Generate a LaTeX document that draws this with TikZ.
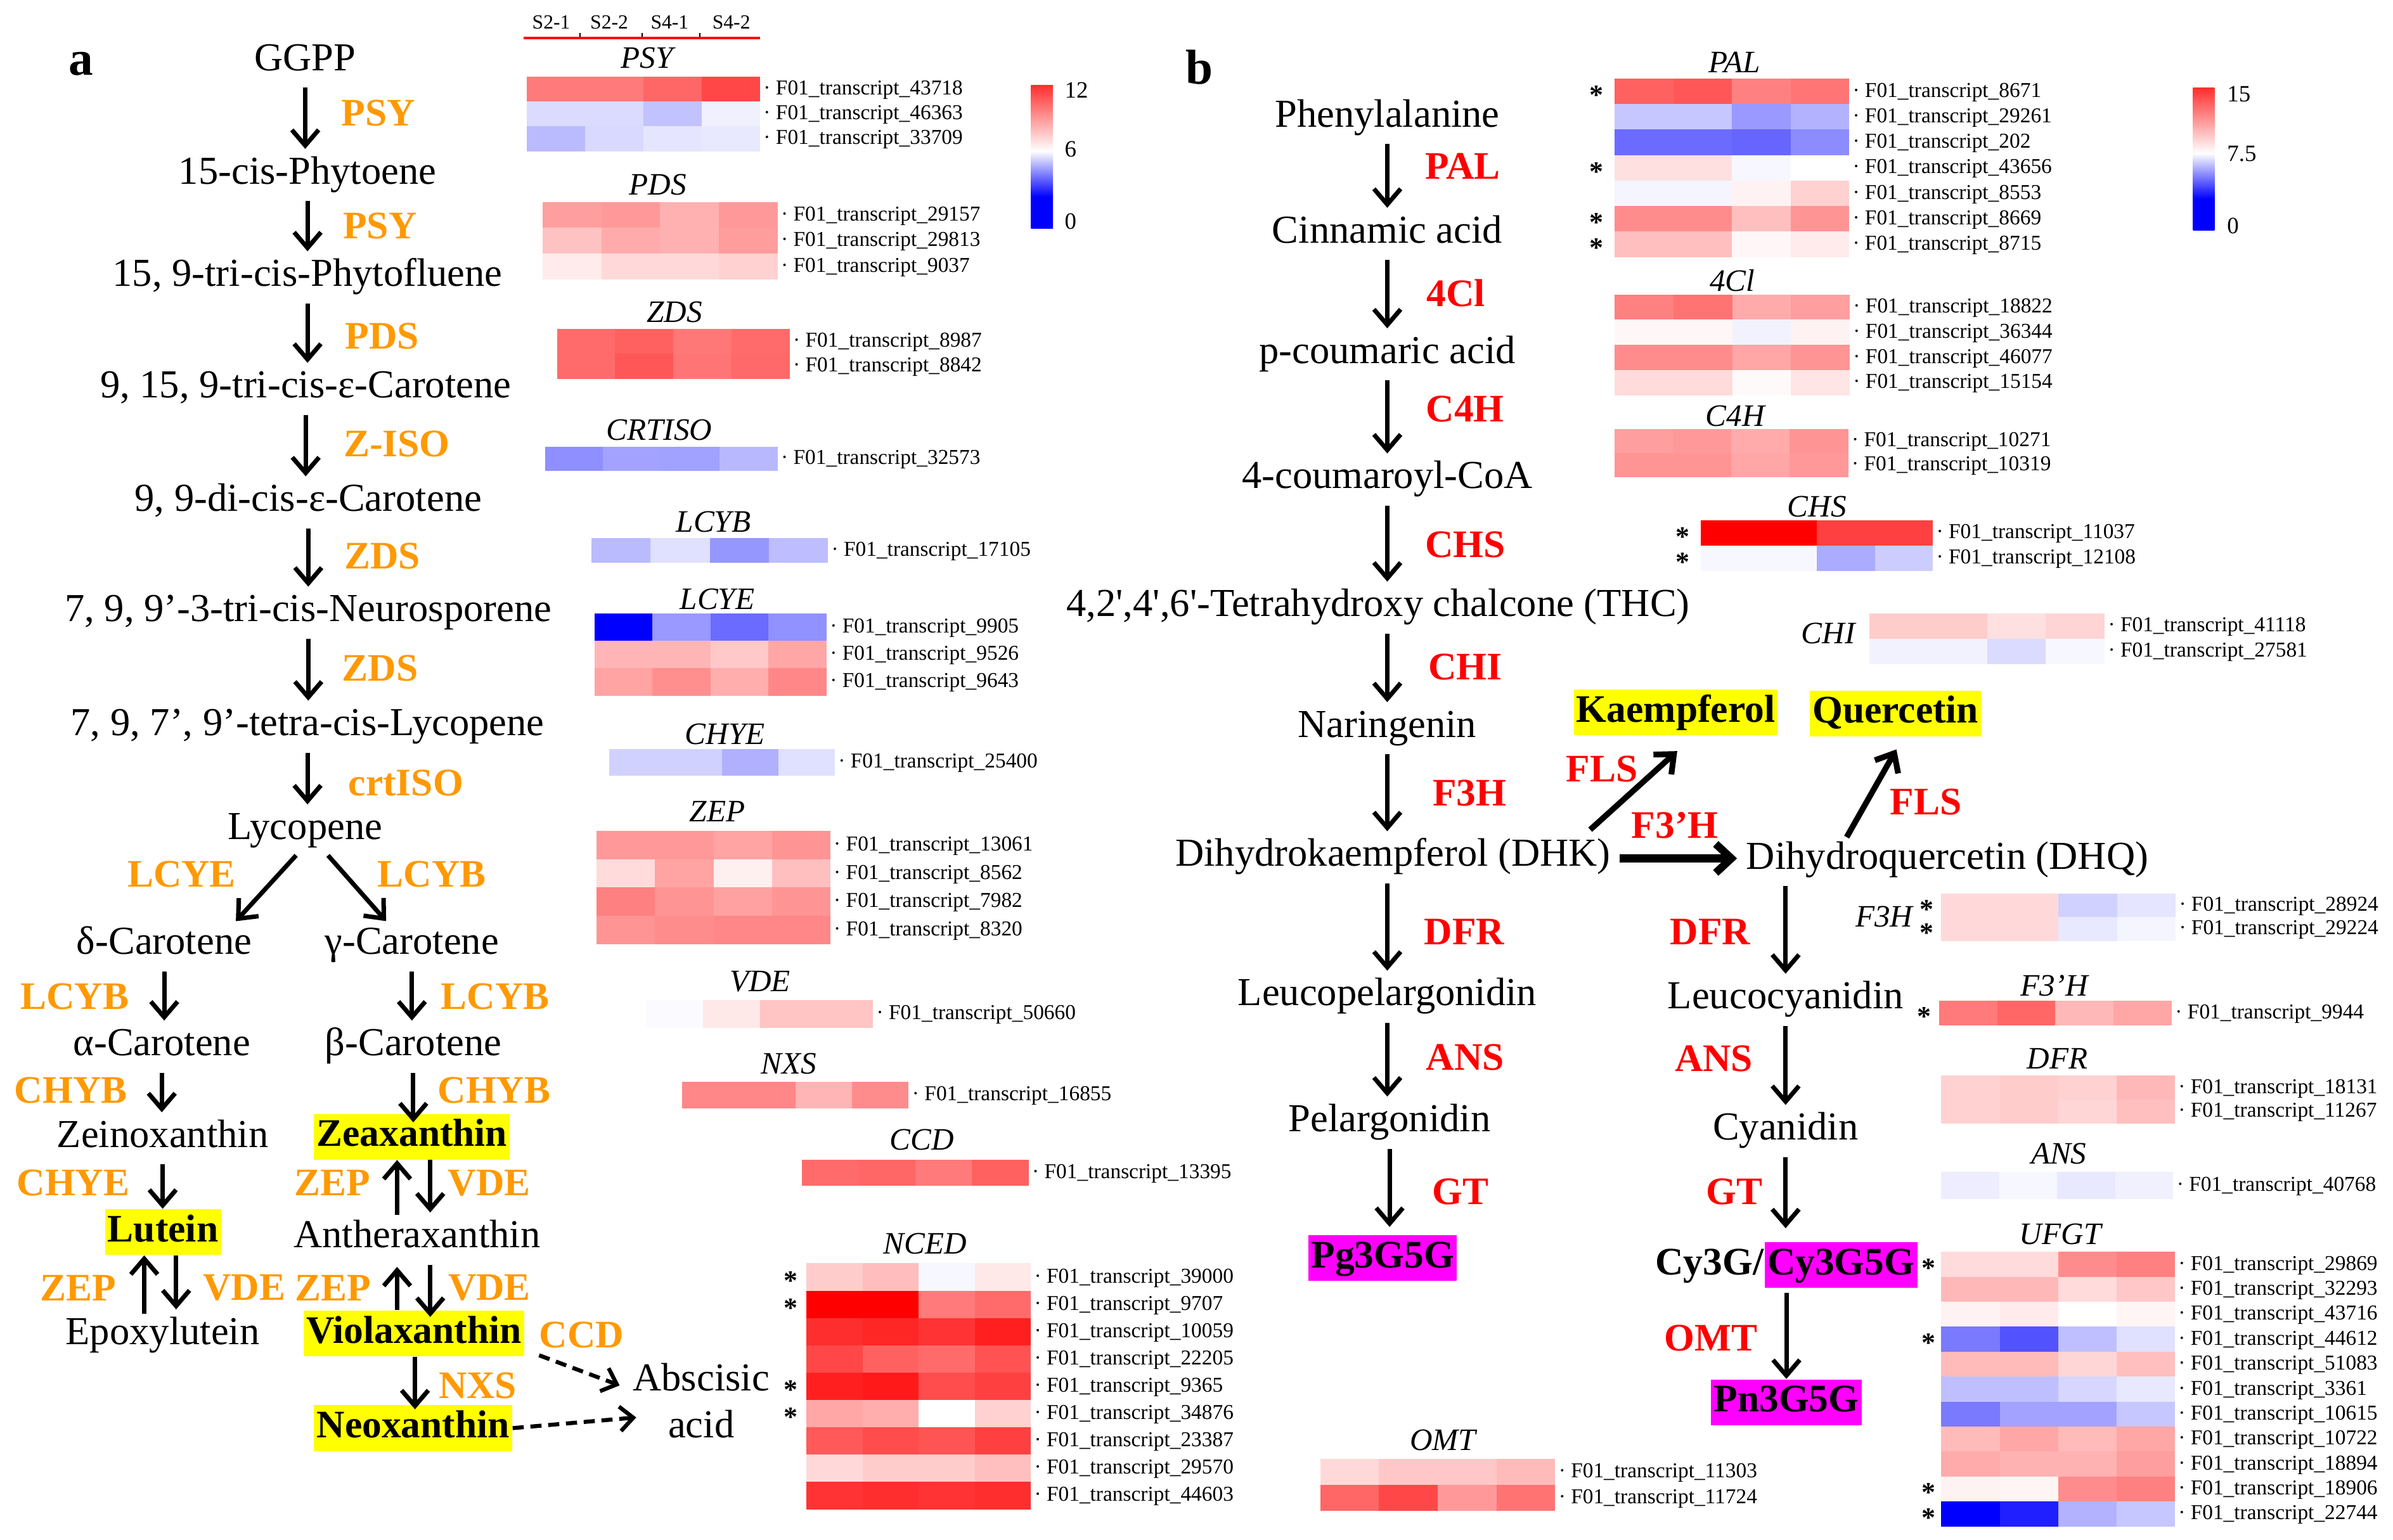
\documentclass[tikz,border=0pt]{standalone}
\usepackage{fontspec}
\setmainfont{Liberation Serif}
\usetikzlibrary{arrows.meta}
\definecolor{enzorange}{RGB}{255,153,0}
\definecolor{hlyellow}{RGB}{255,255,0}
\definecolor{hlmagenta}{RGB}{255,0,255}
\pgfdeclareverticalshading{hmbar}{100bp}{color(0bp)=(blue); color(36bp)=(blue); color(52bp)=(white); color(80bp)=(red); color(100bp)=(red)}
\tikzset{
  cmp/.style={font=\fontsize{17.8}{21}\selectfont, inner sep=1pt, text height=11.5pt, text depth=4.5pt},
  enz/.style={font=\fontsize{17.5}{21}\selectfont\bfseries, text=enzorange, inner sep=0pt},
  enzr/.style={font=\fontsize{17.5}{21}\selectfont\bfseries, text=red, inner sep=0pt},
  boldtxt/.style={font=\fontsize{17.5}{21}\selectfont\bfseries, inner xsep=1.2pt, inner ysep=2.1pt, text height=12.5pt, text depth=3.8pt},
  hl/.style={boldtxt, fill=hlyellow},
  mg/.style={boldtxt, fill=hlmagenta},
  gname/.style={font=\fontsize{14}{16}\selectfont\itshape, inner sep=0pt},
  lbl/.style={font=\fontsize{9.5}{11}\selectfont, anchor=west, inner sep=0pt, text height=6.8pt, text depth=1.6pt},
  ast/.style={font=\fontsize{12.5}{13}\selectfont\bfseries, inner sep=0pt, anchor=base},
  cblbl/.style={font=\fontsize{10.5}{12}\selectfont, anchor=west, inner sep=0pt},
  arr/.style={line width=2pt, -{Straight Barb[length=7pt,width=12pt]}, shorten <=2pt, shorten >=3pt},
  arrb/.style={line width=2.6pt, -{Straight Barb[length=7pt,width=12pt]}},
  arrh/.style={line width=3.5pt, -{Straight Barb[length=7pt,width=13pt]}, shorten <=3pt, shorten >=3pt},
  darr/.style={line width=1.8pt, dash pattern=on 5pt off 3pt, -{Straight Barb[length=6pt,width=11pt]}},
}
\newcommand{\hmap}[6]{%
  \foreach \ca/\cb/\cc/\cd/\tr [count=\i] in {#6}{%
    \pgfmathsetmacro{\yy}{#3+(\i-1)*#5}%
    \pgfmathsetmacro{\cw}{(#4-#2)/4}%
    \fill[fill=\ca] (#2,\yy) rectangle ++({\cw+0.3},{#5+0.3});
    \fill[fill=\cb] ({#2+\cw},\yy) rectangle ++({\cw+0.3},{#5+0.3});
    \fill[fill=\cc] ({#2+2*\cw},\yy) rectangle ++({\cw+0.3},{#5+0.3});
    \fill[fill=\cd] ({#2+3*\cw},\yy) rectangle ++(\cw,{#5+0.3});
    \node[lbl] (#1-\i) at ({#4+2},{\yy+#5/2}) {· F01\_transcript\_\tr};
  }}
\begin{document}
\begin{tikzpicture}[x=0.24075mm, y=-0.24075mm]
  \useasboundingbox (0,0) rectangle (1568,1009);

  \node[font=\fontsize{22}{22}\selectfont\bfseries] (pa) at (53,42) {a};
  \node[font=\fontsize{22}{22}\selectfont\bfseries] (pb) at (786,44) {b};

  \node[cmp] (ggpp) at (200,41) {GGPP};
  \node[cmp] (phy) at (201.5,115.4) {15-cis-Phytoene};
  \node[cmp] (phf) at (201.5,182.5) {15, 9-tri-cis-Phytofluene};
  \node[cmp] (zcar) at (200.3,255.6) {9, 15, 9-tri-cis-ε-Carotene};
  \node[cmp] (dcar) at (202,330) {9, 9-di-cis-ε-Carotene};
  \node[cmp] (neu) at (202,402.3) {7, 9, 9’-3-tri-cis-Neurosporene};
  \node[cmp] (tlyc) at (201.5,477) {7, 9, 7’, 9’-tetra-cis-Lycopene};
  \node[cmp] (lyc) at (200,545) {Lycopene};
  \node[cmp] (dcaro) at (107.6,620.4) {δ-Carotene};
  \node[cmp] (gcaro) at (269.9,620.4) {γ-Carotene};
  \node[cmp] (acaro) at (106,686.7) {α-Carotene};
  \node[cmp] (bcaro) at (270.8,686.7) {β-Carotene};
  \node[cmp] (zein) at (106.6,746.8) {Zeinoxanthin};
  \node[hl] (zea) at (269.9,745) {Zeaxanthin};
  \node[hl] (lut) at (106.8,807.5) {Lutein};
  \node[cmp] (anth) at (273.2,812.5) {Antheraxanthin};
  \node[cmp] (epox) at (106.6,876) {Epoxylutein};
  \node[hl] (viola) at (271.2,874) {Violaxanthin};
  \node[hl] (neo) at (270.7,936) {Neoxanthin};
  \node[font=\fontsize{17.8}{21.2}\selectfont, align=center, inner sep=1pt] (aba) at (459.5,918) {Abscisic\\acid};

  \draw[arr] (ggpp.south) -- (ggpp.south |- phy.north);
  \draw[arr] (phy.south) -- (phy.south |- phf.north);
  \draw[arr] (phf.south) -- (phf.south |- zcar.north);
  \draw[arr] (zcar.south) -- (zcar.south |- dcar.north);
  \draw[arr] (dcar.south) -- (dcar.south |- neu.north);
  \draw[arr] (neu.south) -- (neu.south |- tlyc.north);
  \draw[arr] (tlyc.south) -- (tlyc.south |- lyc.north);
  \draw[arr] ([shift={(-4,0)}]lyc.south) -- ([shift={(44,0)}]dcaro.north);
  \draw[arr] ([shift={(13,0)}]lyc.south) -- ([shift={(-14,0)}]gcaro.north);
  \draw[arr] (dcaro.south) -- (dcaro.south |- acaro.north);
  \draw[arr] (gcaro.south) -- (gcaro.south |- bcaro.north);
  \draw[arr] (acaro.south) -- (acaro.south |- zein.north);
  \draw[arr, shorten >=-4pt] (bcaro.south) -- (bcaro.south |- zea.north);
  \draw[arr, shorten >=0pt] (zein.south) -- (zein.south |- lut.north);
  \draw[arr, shorten >=0pt] ([shift={(-13,0)}]anth.north) -- ([shift={(-13,0)}]anth.north |- zea.south);
  \draw[arr, shorten <=0pt] ([shift={(8.7,0)}]anth.north |- zea.south) -- ([shift={(8.7,0)}]anth.north);
  \draw[arr, shorten <=1pt, shorten >=0pt] ([shift={(-12.3,0)}]lut.south |- epox.north) -- ([shift={(-12.3,0)}]lut.south);
  \draw[arr, shorten <=0pt] ([shift={(8.6,0)}]lut.south) -- ([shift={(8.6,0)}]lut.south |- epox.north);
  \draw[arr, shorten <=0pt] ([shift={(-13,0)}]anth.south |- viola.north) -- ([shift={(-13,0)}]anth.south);
  \draw[arr, shorten >=-3pt] ([shift={(8.7,0)}]anth.south) -- ([shift={(8.7,0)}]anth.south |- viola.north);
  \draw[arr, shorten <=0pt, shorten >=-2pt] ([shift={(0.7,0)}]viola.south) -- ([shift={(0.7,0)}]viola.south |- neo.north);
  \draw[darr] ([shift={(9.5,-1)}]viola.south east) -- ([shift={(-7,-10)}]aba.west);
  \draw[darr] (neo.east) -- ([shift={(3.9,11)}]aba.west);

  \node[enz] (e-psy1) at (248,74) {PSY};
  \node[enz] (e-psy2) at (249,148) {PSY};
  \node[enz] (e-pds) at (250.4,220.4) {PDS};
  \node[enz] (e-ziso) at (260,291) {Z-ISO};
  \node[enz] (e-zds1) at (250.4,364.4) {ZDS};
  \node[enz] (e-zds2) at (249,438) {ZDS};
  \node[enz] (e-crtiso) at (266,513) {crtISO};
  \node[enz] (e-lcye) at (119,573) {LCYE};
  \node[enz] (e-lcyb1) at (283,573) {LCYB};
  \node[enz] (e-lcyb2) at (49,653) {LCYB};
  \node[enz] (e-lcyb3) at (324.5,653) {LCYB};
  \node[enz] (e-chyb1) at (46.4,714.5) {CHYB};
  \node[enz] (e-chyb2) at (323.8,714.5) {CHYB};
  \node[enz] (e-chye) at (48,775.4) {CHYE};
  \node[enz] (e-zep1) at (217.6,775.4) {ZEP};
  \node[enz] (e-vde1) at (320.5,775.4) {VDE};
  \node[enz] (e-zep2) at (51.3,844) {ZEP};
  \node[enz] (e-vde2) at (160,844) {VDE};
  \node[enz] (e-zep3) at (218,844) {ZEP};
  \node[enz] (e-vde3) at (320.7,844) {VDE};
  \node[enz] (e-ccd) at (381,875) {CCD};
  \node[enz] (e-nxs) at (313,908) {NXS};

  \node[font=\fontsize{9}{10}\selectfont, inner sep=0pt] (hd1) at (361.2,14.8) {S2-1};
  \node[font=\fontsize{9}{10}\selectfont, inner sep=0pt] (hd2) at (399.2,14.8) {S2-2};
  \node[font=\fontsize{9}{10}\selectfont, inner sep=0pt] (hd3) at (438.8,14.8) {S4-1};
  \node[font=\fontsize{9}{10}\selectfont, inner sep=0pt] (hd4) at (479.2,14.8) {S4-2};
  \draw[red, line width=1.1pt] (343,24.8) -- (498,24.8);
  \draw[line width=0.4pt] (380,24) -- (380,21.5);
  \draw[line width=0.4pt] (420.8,24) -- (420.8,21.5);
  \draw[line width=0.4pt] (458.6,24) -- (458.6,21.5);

  \node[gname] (t-psy) at (424,38) {PSY};
  \node[gname] (t-pds) at (431,121) {PDS};
  \node[gname] (t-zds) at (442,204.5) {ZDS};
  \node[gname] (t-crtiso) at (432,282) {CRTISO};
  \node[gname] (t-lcyb) at (467.5,342) {LCYB};
  \node[gname] (t-lcye) at (470,392.5) {LCYE};
  \node[gname] (t-chye) at (475,481) {CHYE};
  \node[gname] (t-zep) at (470,532) {ZEP};
  \node[gname] (t-vde) at (498,643.4) {VDE};
  \node[gname] (t-nxs) at (517,697) {NXS};
  \node[gname] (t-ccd) at (604,747) {CCD};
  \node[gname] (t-nced) at (606,815) {NCED};

  \hmap{psy}{345}{50.4}{498}{16.2}{red!52/red!52/red!60/red!72/43718, blue!14/blue!14/blue!24/blue!6/46363, blue!27/blue!15/blue!10/blue!9/33709}
  \hmap{pds}{355.6}{132.4}{509.5}{16.8}{red!38/red!40/red!31/red!40/29157, red!24/red!33/red!31/red!39/29813, red!8/red!15/red!15/red!18/9037}
  \hmap{zds}{365}{215.7}{517.4}{16.2}{red!58/red!62/red!53/red!58/8987, red!58/red!66/red!54/red!59/8842}
  \hmap{crtiso}{357}{293}{509.5}{15.3}{blue!44/blue!36/blue!37/blue!28/32573}
  \hmap{lcyb}{387.5}{352.7}{542.5}{15.8}{blue!27/blue!12/blue!41/blue!26/17105}
  \hmap{lcye}{389.4}{402}{541.6}{17.9}{blue!100/blue!40/blue!58/blue!43/9905, red!29/red!29/red!21/red!35/9526, red!36/red!44/red!32/red!47/9643}
  \hmap{chye}{399}{491}{547}{17}{blue!18/blue!18/blue!31/blue!12/25400}
  \hmap{zep}{391}{544.6}{544}{18.5}{red!40/red!40/red!36/red!42/13061, red!14/red!36/red!6/red!25/8562, red!50/red!42/red!37/red!42/7982, red!42/red!45/red!47/red!47/8320}
  \hmap{vde}{423.7}{655.5}{572}{17.8}{blue!2/red!9/red!23/red!23/50660}
  \hmap{nxs}{447}{709}{595.4}{17}{red!47/red!47/red!29/red!45/16855}
  \hmap{ccd}{525.4}{760}{674}{17}{red!58/red!60/red!52/red!62/13395}
  \hmap{nced}{528.4}{828}{675.4}{17.9}{red!20/red!26/blue!3/red!9/39000, red!100/red!100/red!52/red!58/9707, red!82/red!85/red!80/red!88/10059, red!72/red!62/red!58/red!68/22205, red!88/red!90/red!70/red!75/9365, red!35/red!32/white/red!18/34876, red!65/red!70/red!67/red!75/23387, red!15/red!20/red!20/red!25/29570, red!80/red!82/red!80/red!82/44603}
  \foreach \r in {1,2,5,6} \node[ast] (nced-s\r) at (518,{828+(\r-0.5)*17.9+8.5}) {*};

  \shade[shading=hmbar] (675.5,55.7) rectangle (690,149.8);
  \node[cblbl] (cb-a1) at (697.4,59.3) {12};
  \node[cblbl] (cb-a2) at (697.4,97.9) {6};
  \node[cblbl] (cb-a3) at (697.4,145) {0};

  \node[cmp] (phe) at (909,78) {Phenylalanine};
  \node[cmp] (cin) at (909,154) {Cinnamic acid};
  \node[cmp] (pcou) at (909,233) {p-coumaric acid};
  \node[cmp] (cou) at (909,315) {4-coumaroyl-CoA};
  \node[cmp] (thc) at (903,399) {4,2\textquotesingle,4\textquotesingle,6\textquotesingle-Tetrahydroxy chalcone (THC)};
  \node[cmp] (nar) at (909,478) {Naringenin};
  \node[cmp] (dhk) at (912.7,562.6) {Dihydrokaempferol (DHK)};
  \node[cmp] (dhq) at (1276,564.5) {Dihydroquercetin (DHQ)};
  \node[hl] (kae) at (1098,467) {Kaempferol};
  \node[hl] (que) at (1242,467.5) {Quercetin};
  \node[cmp] (leup) at (909,654) {Leucopelargonidin};
  \node[cmp] (leuc) at (1170,656) {Leucocyanidin};
  \node[cmp] (pel) at (910.5,736.5) {Pelargonidin};
  \node[cmp] (cyan) at (1170,742) {Cyanidin};
  \node[mg] (pg) at (906,824.5) {Pg3G5G};
  \node[boldtxt, inner xsep=0pt, anchor=east] (cy3g) at (1156,829) {Cy3G/};
  \node[mg, anchor=west] (cy3g5g) at (1156,829) {Cy3G5G};
  \node[mg] (pn) at (1170.5,919) {Pn3G5G};

  \draw[arr] (phe.south) -- (phe.south |- cin.north);
  \draw[arr] (cin.south) -- (cin.south |- pcou.north);
  \draw[arr] (pcou.south) -- (pcou.south |- cou.north);
  \draw[arr] (cou.south) -- (cou.south |- thc.north);
  \draw[arr] (thc.south -| nar) -- (nar.north);
  \draw[arr] (nar.south) -- (nar.south |- dhk.north);
  \draw[arr] (dhk.south -| leup) -- (leup.north);
  \draw[arr] (leup.south) -- (leup.south |- pel.north);
  \draw[arr, shorten >=3.5pt] (pel.south) -- (pel.south |- pg.north);
  \draw[arr] (dhq.south -| leuc) -- (leuc.north);
  \draw[arr] (leuc.south) -- (leuc.south |- cyan.north);
  \draw[arr, shorten >=6pt] (cyan.south) -- (cyan.south |- cy3g5g.north);
  \draw[arr, shorten >=0pt] (cy3g5g.south -| pn) -- (pn.north);
  \draw[arrh] (dhk.east) -- (dhk.east -| dhq.west);
  \draw[arrb] ([shift={(-15,-5.4)}]dhk.north east) -- ([shift={(1,10)}]kae.south);
  \draw[arrb] ([shift={(-66,-2.4)}]dhq.north) -- ([shift={(0.6,8.4)}]que.south);

  \node[enzr] (r-pal) at (958.5,109) {PAL};
  \node[enzr] (r-fcl) at (954,192) {4Cl};
  \node[enzr] (r-cfh) at (960,268) {C4H};
  \node[enzr] (r-chs) at (960,357) {CHS};
  \node[enzr] (r-chi) at (960,437) {CHI};
  \node[enzr] (r-fth) at (963,519.6) {F3H};
  \node[enzr] (r-fls1) at (1049.7,504) {FLS};
  \node[enzr] (r-ftph) at (1097.5,541) {F3’H};
  \node[enzr] (r-fls2) at (1262,525.6) {FLS};
  \node[enzr] (r-dfr1) at (959.5,610.6) {DFR};
  \node[enzr] (r-dfr2) at (1120.6,610.6) {DFR};
  \node[enzr] (r-ans1) at (960,693) {ANS};
  \node[enzr] (r-ans2) at (1123,694) {ANS};
  \node[enzr] (r-gt1) at (957,781) {GT};
  \node[enzr] (r-gt2) at (1136.5,781) {GT};
  \node[enzr] (r-omt) at (1121,877) {OMT};

  \node[gname] (t-pal) at (1136.5,41) {PAL};
  \node[gname] (t-fcl) at (1135,184) {4Cl};
  \node[gname] (t-cfh) at (1137,272.5) {C4H};
  \node[gname] (t-chs) at (1190.5,332) {CHS};
  \node[gname] (t-chi) at (1198,415) {CHI};
  \node[gname] (t-fth) at (1234.5,600.6) {F3H};
  \node[gname] (t-ftph) at (1346,646) {F3’H};
  \node[gname] (t-dfr) at (1348,693.7) {DFR};
  \node[gname] (t-ans) at (1349,756) {ANS};
  \node[gname] (t-ufgt) at (1350,809) {UFGT};
  \node[gname] (t-omt) at (945.5,944) {OMT};

  \hmap{pal}{1058}{51.5}{1211.6}{16.7}{red!62/red!66/red!50/red!54/8671, blue!22/blue!22/blue!40/blue!30/29261, blue!58/blue!58/blue!60/blue!45/202, red!12/red!12/blue!3/white/43656, blue!4/blue!4/red!5/red!18/8553, red!45/red!45/red!25/red!42/8669, red!25/red!25/red!3/red!8/8715}
  \hmap{fcl}{1058}{193}{1212}{16.5}{red!50/red!55/red!33/red!38/18822, red!3/red!3/blue!5/red!5/36344, red!45/red!45/red!35/red!42/46077, red!14/red!14/red!2/red!10/15154}
  \hmap{cfh}{1058}{281}{1211}{15.8}{red!38/red!40/red!33/red!42/10271, red!42/red!42/red!35/red!40/10319}
  \hmap{chs}{1114.5}{341}{1266.5}{16.5}{red!100/red!100/red!75/red!75/11037, blue!3/blue!3/blue!33/blue!20/12108}
  \hmap{chi}{1225}{402}{1379}{16.5}{red!20/red!20/red!12/red!17/41118, blue!5/blue!5/blue!14/blue!3/27581}
  \hmap{fth}{1272}{585.7}{1425.5}{15.4}{red!15/red!15/blue!18/blue!10/28924, red!15/red!15/blue!9/blue!4/29224}
  \hmap{ftph}{1270.5}{655.7}{1423}{16}{red!52/red!60/red!28/red!35/9944}
  \hmap{dfr}{1272}{705}{1425}{15.5}{red!18/red!20/red!18/red!28/18131, red!18/red!20/red!16/red!25/11267}
  \hmap{ans}{1272}{768}{1424}{17.5}{blue!7/blue!3/blue!9/blue!6/40768}
  \hmap{ufgt}{1272}{820.5}{1425}{16.35}{red!14/red!14/red!45/red!50/29869, red!28/red!28/red!14/red!22/32293, red!5/red!8/white/red!4/43716, blue!52/blue!68/blue!25/blue!12/44612, red!27/red!27/red!16/red!25/51083, blue!25/blue!25/blue!16/blue!9/3361, blue!52/blue!36/blue!36/blue!22/10615, red!27/red!35/red!27/red!35/10722, red!33/red!30/red!30/red!38/18894, red!5/red!4/red!45/red!50/18906, blue!100/blue!88/blue!30/blue!22/22744}
  \hmap{omt}{865}{956}{1019}{17}{red!15/red!22/red!22/red!27/11303, red!60/red!72/red!40/red!55/11724}

  \foreach \r in {1,4,6,7} \node[ast] (pal-s\r) at (1046,{51.5+(\r-0.5)*16.7+8.5}) {*};
  \foreach \r in {1,2} \node[ast] (chs-s\r) at (1102.6,{341+(\r-0.5)*16.5+8.5}) {*};
  \foreach \r in {1,2} \node[ast] (fth-s\r) at (1262.5,{585.7+(\r-0.5)*15.4+8.5}) {*};
  \node[ast] (ftph-s1) at (1261,{655.7+8+8.5}) {*};
  \foreach \r in {1,4,10,11} \node[ast] (ufgt-s\r) at (1263.6,{820.5+(\r-0.5)*16.35+8.5}) {*};

  \shade[shading=hmbar] (1437,57.4) rectangle (1451,151);
  \node[cblbl] (cb-b1) at (1459,61.5) {15};
  \node[cblbl] (cb-b2) at (1459,100.6) {7.5};
  \node[cblbl] (cb-b3) at (1459,148) {0};
\end{tikzpicture}
\end{document}
